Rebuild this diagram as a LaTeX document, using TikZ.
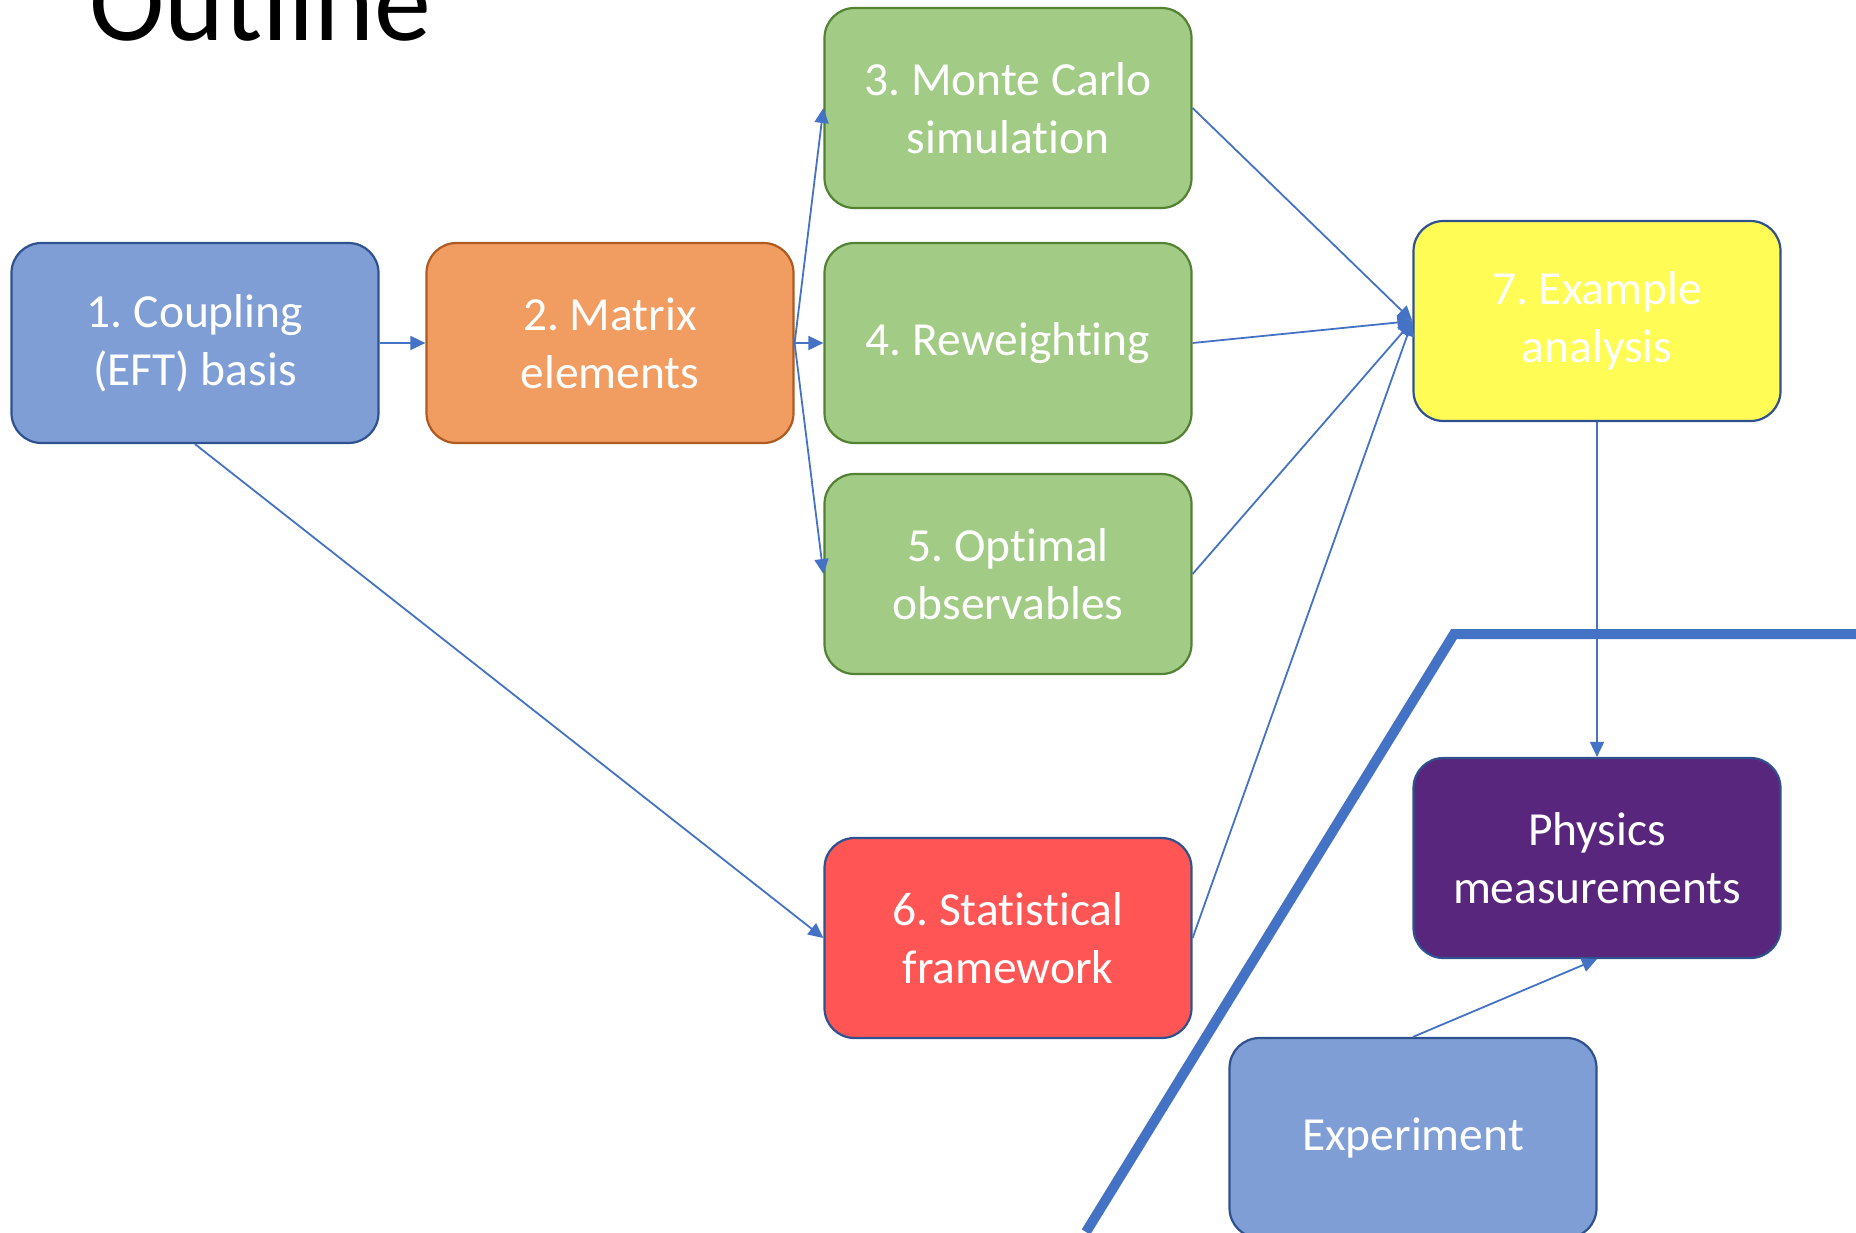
\documentclass[tikz,border=0pt]{standalone}
\usepackage{fontspec}
\setmainfont{Carlito}[Ligatures=NoCommon]
\usetikzlibrary{arrows.meta}
\frenchspacing

\definecolor{linkblue}{HTML}{4472C4}
\definecolor{darkblue}{HTML}{2F528F}
\definecolor{softblue}{HTML}{7F9ED6}
\definecolor{orangefill}{HTML}{F19C61}
\definecolor{orangeline}{HTML}{AE5A21}
\definecolor{greenfill}{HTML}{A2CB85}
\definecolor{greenline}{HTML}{548235}
\definecolor{redfill}{HTML}{FF5555}
\definecolor{yellowfill}{HTML}{FFFC55}
\definecolor{purplefill}{HTML}{58267C}

\tikzset{
    blk/.style={draw=#1, line width=2.2pt, rounded corners=30pt,
        minimum width=367pt, minimum height=200pt, align=center,
        text=white, font=\fontsize{47.5}{58}\selectfont},
    lnk/.style={draw=linkblue, line width=1.8pt,
        -{Triangle[length=15pt,width=14pt]}},
}

\begin{document}
\begin{tikzpicture}[x=1pt, y=-1pt]
    \clip (0,0) rectangle (1856,1232);

    \node[anchor=base west, inner sep=0pt, font=\fontsize{114}{130}\selectfont] (ttl) at (89,40) {Outline};

    \node[blk=darkblue, fill=softblue] (coup) at (195,343) {1. Coupling\\(EFT) basis};
    \node[blk=orangeline, fill=orangefill] (mat) at (610,343) {2. Matrix\\elements};
    \node[blk=greenline, fill=greenfill] (mc) at (1008,108) {3. Monte Carlo\\simulation};
    \node[blk=greenline, fill=greenfill] (rew) at (1008,343) {4. Reweighting};
    \node[blk=greenline, fill=greenfill] (obs) at (1008,574) {5. Optimal\\observables};
    \node[blk=darkblue, fill=redfill] (stat) at (1008,938) {6. Statistical\\framework};
    \node[blk=darkblue, fill=yellowfill] (ex) at (1597,321) {7. Example\\analysis};
    \node[blk=darkblue, fill=purplefill] (phys) at (1597,858) {Physics\\measurements};
    \node[blk=darkblue, fill=softblue] (expt) at (1413,1138) {Experiment};

    \draw[lnk] (coup) -- (mat);
    \draw[lnk] (mat.east) -- (mc.west);
    \draw[lnk] (mat.east) -- (rew.west);
    \draw[lnk] (mat.east) -- (obs.west);
    \draw[lnk] (coup.south) -- (stat.west);
    \draw[lnk] (mc.east) -- (ex.west);
    \draw[lnk] (rew.east) -- (ex.west);
    \draw[lnk] (obs.east) -- (ex.west);
    \draw[lnk] (stat.east) -- (ex.west);
    \draw[lnk] (ex) -- (phys);
    \draw[lnk] (expt.north) -- (phys.south);

    \coordinate (cutlow) at (1086,1232);
    \coordinate (cutbend) at (1454,634);
    \coordinate (cutend) at (1856,634);
    \draw[linkblue, line width=10pt] (cutlow) -- (cutbend) -- (cutend);
\end{tikzpicture}
\end{document}
